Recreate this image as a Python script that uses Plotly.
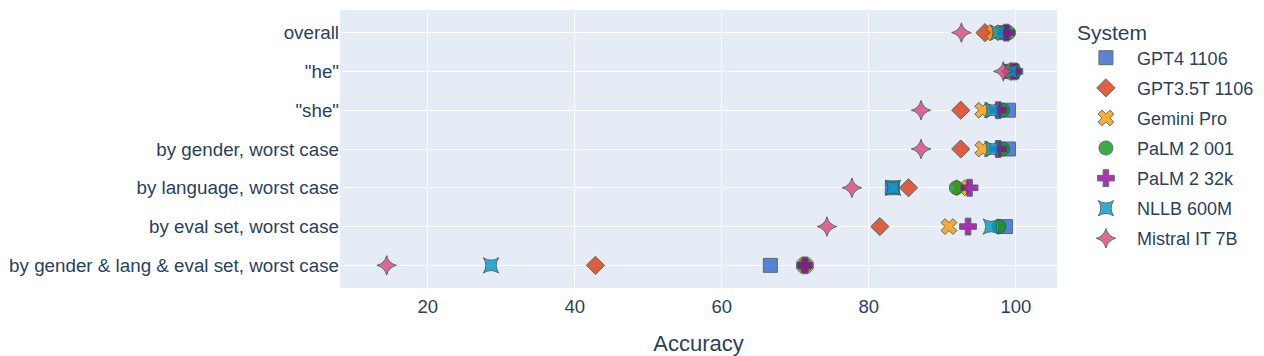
import plotly.graph_objects as go

categories = ["overall", '"he"', '"she"', "by gender, worst case",
              "by language, worst case", "by eval set, worst case",
              "by gender & lang & eval set, worst case"]

systems = ["GPT4 1106", "GPT3.5T 1106", "Gemini Pro", "PaLM 2 001",
           "PaLM 2 32k", "NLLB 600M", "Mistral IT 7B"]

gpt4 = [98.3, 99.5, 99.0, 99.0, 83.2, 98.6, 66.6]
gpt35 = [95.8, 99.3, 92.5, 92.5, 85.4, 81.5, 42.8]
gemini = [97.0, 99.5, 95.5, 95.5, 92.5, 90.9, 71.3]
palm001 = [99.0, 99.8, 98.2, 98.2, 91.9, 97.7, 71.3]
palm32k = [98.7, 99.8, 97.6, 97.6, 93.7, 93.5, 71.3]
nllb = [97.6, 99.3, 96.8, 96.8, 83.3, 96.6, 28.6]
mistral = [92.6, 98.3, 87.1, 87.1, 77.7, 74.3, 14.4]

values = [gpt4, gpt35, gemini, palm001, palm32k, nllb, mistral]
symbols = ["square", "diamond", "x", "circle", "cross", "star-square", "star-diamond"]
colors = ["#3366CC", "#DC3912", "#FF9900", "#109618", "#990099", "#0099C6", "#DD4477"]

fig = go.Figure()
for name, vals, sym, col in zip(systems, values, symbols, colors):
    fig.add_trace(go.Scatter(
        x=vals, y=categories, mode="markers", name=name, legendgroup=name,
        marker=dict(symbol=sym, color=col, size=14, opacity=0.8,
                    line=dict(width=1, color="DarkSlateGrey")),
    ))

fig.update_layout(
    template="plotly",
    width=1264, height=356,
    margin=dict(l=340, r=207, t=10, b=68, autoexpand=False),
    font=dict(family="Liberation Sans, Arial, sans-serif", size=18, color="#2a3f5f"),
    legend=dict(title=dict(text="System", font=dict(size=21)), font=dict(size=18),
                itemwidth=52, x=1.025, y=0.992, tracegroupgap=3.7, traceorder="grouped"),
    xaxis=dict(title=dict(text="Accuracy", font=dict(size=22), standoff=22),
               range=[8.05, 105.6],
               tickvals=[20, 40, 60, 80, 100], tickfont=dict(size=18.5),
               ticklabelstandoff=5),
    yaxis=dict(categoryorder="array", categoryarray=categories, autorange="reversed",
               tickfont=dict(size=18.8)),
)

fig.write_html("out.html")
